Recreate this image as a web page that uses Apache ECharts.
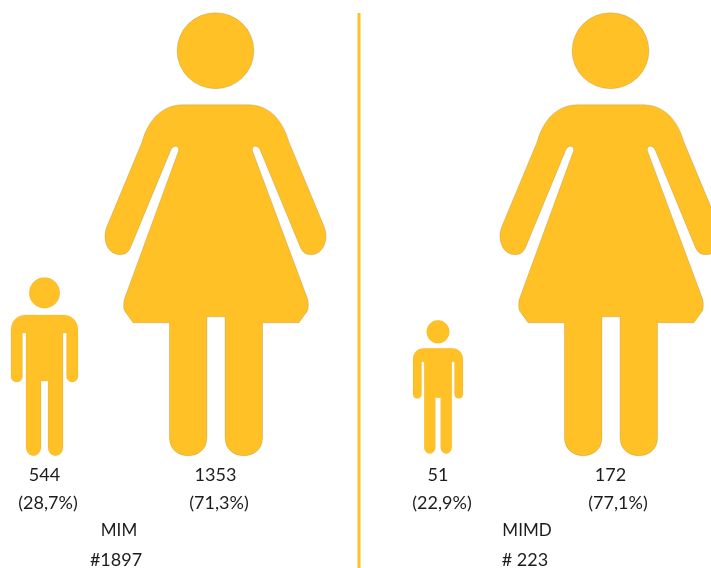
<!DOCTYPE html>
<html><head><meta charset="utf-8">
<style>html,body{margin:0;padding:0;background:#fff}#c{width:711px;height:568px}</style>
<script src="https://cdn.jsdelivr.net/npm/echarts@6/dist/echarts.min.js"></script>
</head><body><div id="c"></div>
<script>
const groups = ['MIM', 'MIMD'];
const groupTotals = ['#1897', '# 223'];
const mimValues = [544, 1353];
const mimdValues = [51, 172];
const mimPercents = ['(28,7%)', '(71,3%)'];
const mimdPercents = ['(22,9%)', '(77,1%)'];
const categories = ['Male', 'Female'];

const FILL = '#FFC125', INK = '#1c1c1c', FONT = 'Lato';
const femalePath = 'path://M177.5 51A38 38 0 1 1 253.5 51A38 38 0 1 1 177.5 51Z' +
 'M183 105L248 105C268 105 282 120 288 142L323 227C328 240 322 255 310 255C304 255 302 252 300 249L260 151C258 145 251 145 252 151' +
 'L306.5 299C307.5 302 307.5 309 306.5 311L298 323L262 323L262 438C262 450 253 456 243.5 456C234 456 225 450 225 438L225 317L207 317' +
 'L207 438C207 450 198 456 188.5 456C179 456 170 450 170 438L170 323L134 323L125.5 311C124.5 309 124.5 302 125.5 299L179 151C180 145 173 145 171 151' +
 'L131 249C129 252 127 255 121 255C109 255 103 240 108 227L143 142C149 120 163 105 183 105Z';
const malePath = 'path://M29.2 292A15.3 15.3 0 1 1 59.8 292A15.3 15.3 0 1 1 29.2 292Z' +
 'M26 314L63 314C72 314 78 320 78 329L78 375C78 379 75 381 72.3 381C69.5 381 66.5 379 66.5 375L66.5 332L63 332L63 446C63 451 59 454.5 55.5 454.5C52 454.5 48 451 48 446L48 380L41 380' +
 'L41 446C41 451 37 454.5 33.5 454.5C30 454.5 26 451 26 446L26 332L22.5 332L22.5 375C22.5 379 19.5 381 16.7 381C14 381 11 379 11 375L11 329C11 320 17 314 26 314Z';

const panels = [
  {left: -41, width: 342, values: mimValues, maleW: 67, femaleW: 221, maleSize: '100%', maleOffset: [0, 0]},
  {left: 351.75, width: 345, values: mimdValues, maleW: 50, femaleW: 221, maleSize: '101.5%', maleOffset: [0, -2]}
];
const pctPos = [[48, 503], [219, 503], [442, 503], [618, 503]];
const titlePos = [[119, 531], [527, 531]];
const totalPos = [[116, 560], [525, 560]];
const txt = (s, p, size) => ({type: 'text', x: p[0], y: p[1], style: {text: s, fill: INK, font: size + 'px ' + FONT, textAlign: 'center', textVerticalAlign: 'middle'}});

const chart = echarts.init(document.getElementById('c'), null, {renderer: 'canvas', width: 711, height: 568});
chart.setOption({
  animation: false,
  backgroundColor: '#fff',
  grid: panels.map(p => ({left: p.left, width: p.width, top: 13, height: 443, containLabel: false, outerBoundsMode: 'none'})),
  xAxis: panels.map((p, i) => ({
    type: 'category', gridIndex: i, data: categories,
    axisLine: {show: false}, axisTick: {show: false}, splitLine: {show: false},
    axisLabel: {
      show: true, interval: 0, margin: 10, color: INK, fontFamily: FONT, fontSize: 18,
      formatter: (v, idx) => String(p.values[idx])
    }
  })),
  yAxis: panels.map((p, i) => ({type: 'value', gridIndex: i, show: false, min: 0, max: Math.max(...p.values)})),
  series: panels.map((p, i) => ({
    type: 'pictorialBar', xAxisIndex: i, yAxisIndex: i, silent: true,
    symbolPosition: 'start', z: 3,
    itemStyle: {color: FILL, borderColor: 'rgba(90,70,20,0.55)', borderWidth: 0.4},
    data: [
      {value: p.values[0], symbol: malePath, symbolSize: [p.maleW, p.maleSize], symbolOffset: p.maleOffset},
      {value: p.values[1], symbol: femalePath, symbolSize: [p.femaleW, '100%']}
    ]
  })),
  graphic: [
    {type: 'line', shape: {x1: 359, y1: 13, x2: 359, y2: 568}, style: {stroke: FILL, lineWidth: 3}},
    ...mimPercents.concat(mimdPercents).map((s, i) => txt(s, pctPos[i], 18)),
    ...groups.map((s, i) => txt(s, titlePos[i], 17)),
    ...groupTotals.map((s, i) => txt(s, totalPos[i], 18))
  ]
});
</script></body></html>
